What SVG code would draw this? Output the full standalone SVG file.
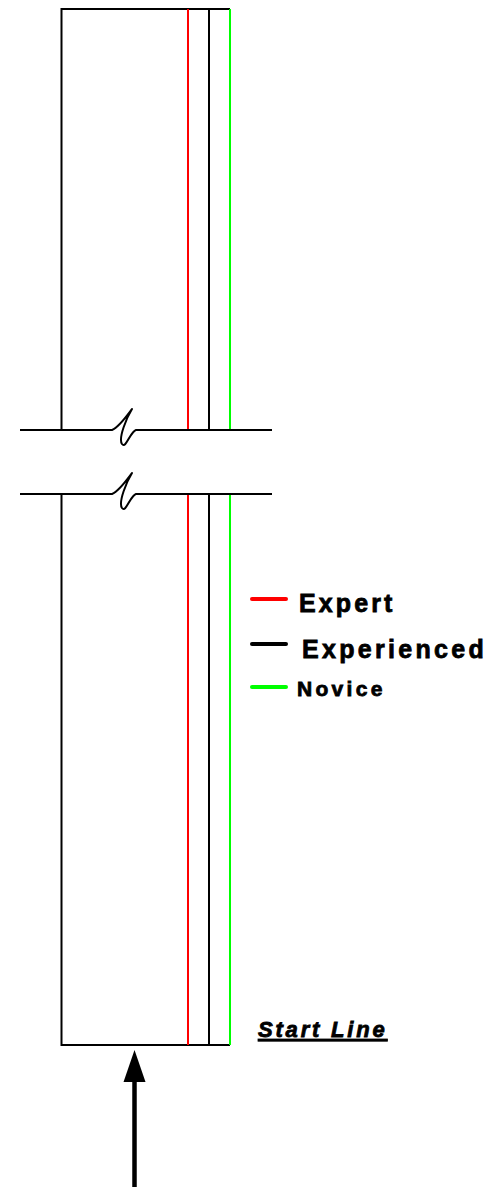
<svg xmlns="http://www.w3.org/2000/svg" width="495" height="1188" viewBox="0 0 495 1188">
<style>
.k{stroke:#000;stroke-width:2;fill:none}
.r{stroke:#ff0000;stroke-width:2;fill:none}
.g{stroke:#00ff00;stroke-width:2;fill:none}
.brk{stroke:#000;stroke-width:2;fill:none;stroke-linejoin:round}
.lg{stroke-width:4;stroke-linecap:round;fill:none}
.t{font-family:"Liberation Sans",Arial,sans-serif;font-weight:bold;fill:#000;stroke:#000;stroke-width:0.8}
</style>
<rect width="495" height="1188" fill="#fff"/>
<g id="track">
<path class="k" d="M61.5,430 V9 H230 M61.5,494 V1045 H230"/>
<path class="r" d="M188,9 V430 M188,494 V1045"/>
<path class="k" d="M209,9 V430 M209,494 V1045"/>
<path class="g" d="M230,9 V430 M230,494 V1045"/>
</g>
<g id="breaks">
<path class="brk" d="M20,430 H112 C119,427 126,417 132,409 C127,417 118,438 122,444 C126,449 130,432 136,430 H272"/>
<path class="brk" d="M20,494 H112 C119,491 126,481 132,473 C127,481 118,502 122,508 C126,513 130,496 136,494 H272"/>
</g>
<g id="legend">
<line class="lg" x1="252" y1="599" x2="286" y2="599" stroke="#ff0000"/>
<text class="t" x="299" y="612" font-size="25" letter-spacing="3.1">Expert</text>
<line class="lg" x1="252" y1="644" x2="286" y2="644" stroke="#000"/>
<text class="t" x="302" y="658" font-size="25" letter-spacing="3.3">Experienced</text>
<line class="lg" x1="252" y1="687" x2="286" y2="687" stroke="#00ff00"/>
<text class="t" x="297" y="696" font-size="21" letter-spacing="3.3">Novice</text>
</g>
<g id="start-line">
<text class="t" x="258" y="1037" font-size="22" font-style="italic" letter-spacing="2.8" text-decoration="underline">Start Line</text>
</g>
<g id="arrow">
<line x1="134.5" y1="1080" x2="134.5" y2="1187" stroke="#000" stroke-width="4.5"/>
<polygon points="134.5,1050 123.5,1082 145.5,1082" fill="#000"/>
</g>
</svg>
